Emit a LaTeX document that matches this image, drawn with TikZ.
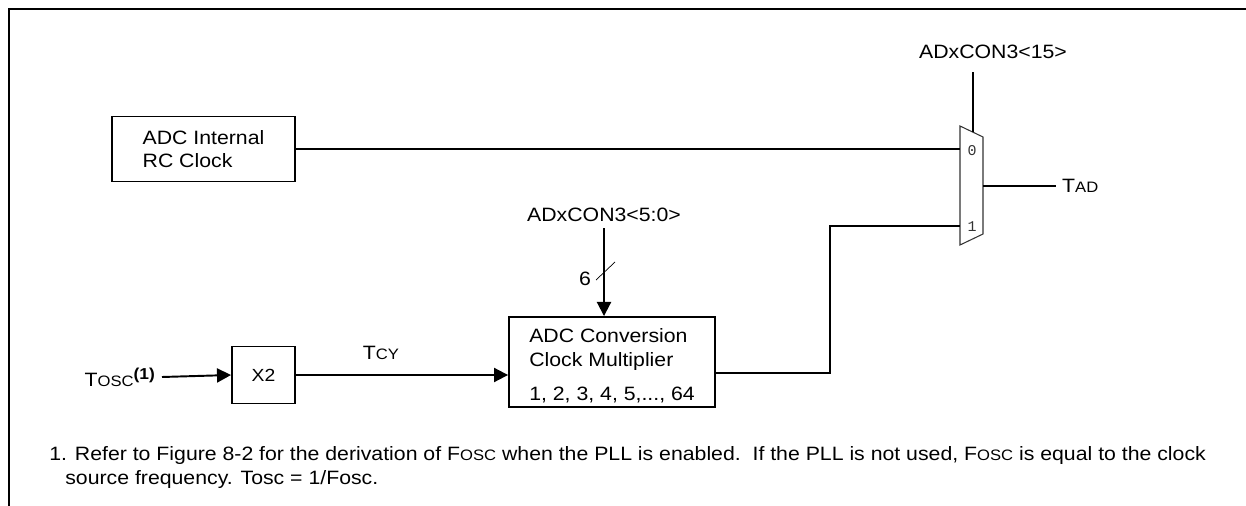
\documentclass[tikz,border=0pt]{standalone}
\usepackage{fontspec}
\setmainfont{Liberation Sans}[FakeStretch=1.1]
\setmonofont{Liberation Mono}
\usetikzlibrary{arrows.meta,positioning}

\newcommand{\smc}[1]{{\fontsize{8.6}{10}\selectfont #1}}

\tikzset{
  blk/.style={draw, line width=1.1pt, inner sep=0pt, align=left},
  wire/.style={line width=1.1pt},
  sig/.style={wire, -{Triangle[length=8pt,width=8pt]}},
  muxlbl/.style={font=\ttfamily\fontsize{8.5}{9}\selectfont, text=black!80, inner sep=0pt},
}

\begin{document}
\begin{tikzpicture}[x=0.02cm, y=-0.02cm, font=\fontsize{11}{13.5}\selectfont]
\useasboundingbox (0,0) rectangle (1246,506);

% frame
\draw[line width=1.2pt] (9,506) -- (9,9) -- (1246,9);

% blocks
\node[blk, minimum width=3.66cm, minimum height=1.3cm] (rc) at (203.5,149) {ADC Internal\\RC Clock};
\node[blk, minimum width=1.26cm, minimum height=1.14cm, font=\fontsize{10}{12}\selectfont] (x2) at (263.5,375) {X2};
\node[blk, minimum width=4.12cm, minimum height=1.8cm] (conv) at (612,362)
  {\rule{0pt}{12pt}ADC Conversion\\Clock Multiplier\\[6pt]1, 2, 3, 4, 5,..., 64};

% mux
\draw[line width=0.6pt, black!80] (960,126) -- (983,137) -- (983,234) -- (960,245) -- cycle;
\coordinate (mux0) at (960,149);
\coordinate (mux1) at (960,226);
\coordinate (muxsel) at (973,132);
\coordinate (muxout) at (983,186);
\node[muxlbl] (in0) at (972,151) {0};
\node[muxlbl] (in1) at (972,227) {1};

% signal names
\node (sel) at (993,52) {ADxCON3<15>};
\node (tad) [anchor=west] at (1056,186) {T\smc{AD}};
\node (cfg) at (604,215) {ADxCON3<5:0>};
\node (six) at (585,279) {6};
\node (tosc) [anchor=east] at (162,377) {T\smc{OSC}\textsuperscript{\fontsize{9}{9}\selectfont\bfseries (1)}};

% connections
\draw[wire] ([yshift=-4pt]sel.south -| muxsel) -- (muxsel);
\draw[wire] (rc.east) -- (mux0);
\draw[wire] (muxout) -- (tad.west);
\draw[sig] (tosc.east) -- (x2.west);
\draw[sig] (x2.east) -- node[above=5pt, pos=0.4] {T\smc{CY}} (x2.east -| conv.west);
\draw[sig] (cfg.south) -- (cfg.south |- conv.north);
\draw (596,280) -- (615,262);
\draw[wire] ([yshift=-0.22cm]conv.east) -| (830,226) -- (mux1);

% note
\node[anchor=north west, align=left, inner sep=0pt] (note) at (49,446)
  {1. Refer to Figure 8-2 for the derivation of F\smc{OSC} when the PLL is enabled.\ \ If the PLL is not used, F\smc{OSC} is equal to the clock\\
   \hspace*{0.32cm}source frequency. Tosc = 1/Fosc.};
\end{tikzpicture}
\end{document}
